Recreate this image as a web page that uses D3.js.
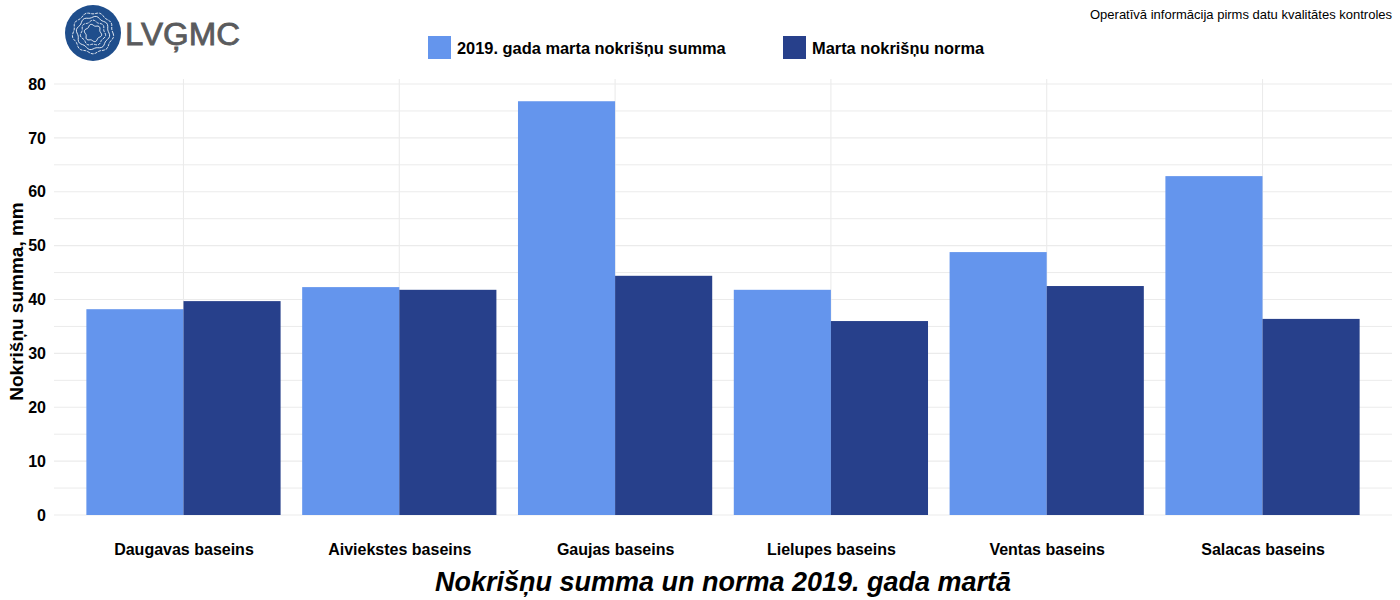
<!DOCTYPE html>
<html>
<head>
<meta charset="utf-8">
<script src="https://cdn.jsdelivr.net/npm/d3@7"></script>
<style>
  body { margin: 0; background: #fff; }
  text { font-family: 'Liberation Sans', Arial, sans-serif; }
</style>
</head>
<body>
<svg></svg>
<script>
// data
var basins = ['Daugavas baseins', 'Aiviekstes baseins', 'Gaujas baseins',
  'Lielupes baseins', 'Ventas baseins', 'Salacas baseins']
var sum2019 = [38.2, 42.3, 76.8, 41.8, 48.8, 62.9]
var norm = [39.7, 41.8, 44.4, 36.0, 42.5, 36.4]
var seriesNames = ['2019. gada marta nokrišņu summa', 'Marta nokrišņu norma']
var yTicks = [0, 10, 20, 30, 40, 50, 60, 70, 80]

var colors = ['#6495ED', '#27408B']

var w = 1400
var h = 600
var svg = d3.select('svg').attr('width', w).attr('height', h)

var pLeft = 54
var pRight = 1392
var pTop = 84
var pBottom = 515

var y = d3.scaleLinear().domain([0, 80]).range([pBottom, pTop])

// discrete axis with 0.6 expand on each side
var step = (pRight - pLeft) / (basins.length - 1 + 1.2)
var xc = d3.scalePoint().domain(basins).range([pLeft + 0.6 * step, pRight - 0.6 * step])
var groupW = step * 0.9
var x1 = d3.scaleBand().domain([0, 1]).range([-groupW / 2, groupW / 2]).padding(0)

var grid = svg.append('g')
d3.range(5, 80, 10).forEach(function (v) {
  grid.append('line').attr('x1', pLeft).attr('x2', pRight)
    .attr('y1', y(v)).attr('y2', y(v))
    .attr('stroke', '#ebebeb').attr('stroke-width', 1)
})
yTicks.forEach(function (v) {
  grid.append('line').attr('x1', pLeft).attr('x2', pRight)
    .attr('y1', y(v)).attr('y2', y(v))
    .attr('stroke', '#ebebeb').attr('stroke-width', 1.1)
})
basins.forEach(function (b) {
  grid.append('line').attr('x1', xc(b)).attr('x2', xc(b))
    .attr('y1', pTop - 5).attr('y2', pBottom)
    .attr('stroke', '#ebebeb').attr('stroke-width', 1.1)
})

// bars
var rows = basins.map(function (b, i) { return { name: b, vals: [sum2019[i], norm[i]] } })
var groups = svg.append('g').selectAll('g').data(rows).enter().append('g')
  .attr('transform', function (d) { return 'translate(' + xc(d.name) + ',0)' })
groups.selectAll('rect').data(function (d) { return d.vals }).enter().append('rect')
  .attr('x', function (d, i) { return x1(i) })
  .attr('width', x1.bandwidth())
  .attr('y', function (d) { return y(d) })
  .attr('height', function (d) { return y(0) - y(d) })
  .attr('fill', function (d, i) { return colors[i] })

// y axis labels
var yAxis = svg.append('g').attr('transform', 'translate(' + pLeft + ',0)')
  .call(d3.axisLeft(y).tickValues(yTicks).tickSize(0).tickPadding(8))
yAxis.select('.domain').remove()
yAxis.selectAll('text').style('font-size', '16px').style('font-weight', 'bold')
  .attr('fill', '#000').style('font-family', "'Liberation Sans', Arial, sans-serif")

// x axis labels
var xAxis = svg.append('g').attr('transform', 'translate(0,' + pBottom + ')')
  .call(d3.axisBottom(xc).tickSize(0).tickPadding(29))
xAxis.select('.domain').remove()
xAxis.selectAll('text').style('font-size', '16px').style('font-weight', 'bold')
  .attr('fill', '#000').style('font-family', "'Liberation Sans', Arial, sans-serif")

// axis titles
svg.append('text')
  .attr('transform', 'translate(23,' + ((pTop + pBottom) / 2 + 2) + ') rotate(-90)')
  .attr('text-anchor', 'middle')
  .style('font-size', '19px').style('font-weight', 'bold')
  .text('Nokrišņu summa, mm')

svg.append('text')
  .attr('x', (pLeft + pRight) / 2).attr('y', 591)
  .attr('text-anchor', 'middle')
  .style('font-size', '27px').style('font-weight', 'bold').style('font-style', 'italic')
  .text('Nokrišņu summa un norma 2019. gada martā')

// legend
var legendX = [428, 783]
var lg = svg.append('g').selectAll('g').data(seriesNames).enter().append('g')
  .attr('transform', function (d, i) { return 'translate(' + legendX[i] + ',36)' })
lg.append('rect').attr('width', 23).attr('height', 23)
  .attr('fill', function (d, i) { return colors[i] })
lg.append('text').attr('x', 29).attr('y', 17.5)
  .style('font-size', '16.4px').style('font-weight', 'bold')
  .text(function (d) { return d })

// top-right note
svg.append('text').attr('x', 1392).attr('y', 19)
  .attr('text-anchor', 'end').style('font-size', '13px')
  .text('Operatīvā informācija pirms datu kvalitātes kontroles')

// logo
var logo = svg.append('g').attr('transform', 'translate(93,33)')
logo.append('circle').attr('r', 28).attr('fill', '#1f4e8c')
var ringR = [8, 12, 16, 20]
ringR.forEach(function (r, k) {
  var pts = d3.range(0, 361, 6).map(function (a) {
    var t = a * Math.PI / 180
    var rr = r + 0.9 * Math.sin(t * (6 + k))
    return [rr * Math.cos(t), rr * Math.sin(t)]
  })
  logo.append('path').attr('d', d3.line()(pts))
    .attr('fill', 'none').attr('stroke', '#fff').attr('stroke-width', 1)
    .attr('stroke-dasharray', k % 2 ? '3,1' : null).attr('opacity', 0.85)
})
svg.append('text').attr('x', 125).attr('y', 45)
  .style('font-size', '32px').attr('fill', '#5a5b5d')
  .attr('stroke', '#5a5b5d').attr('stroke-width', 0.8)
  .attr('textLength', 115).attr('lengthAdjust', 'spacingAndGlyphs')
  .text('LVĢMC')
</script>
</body>
</html>
